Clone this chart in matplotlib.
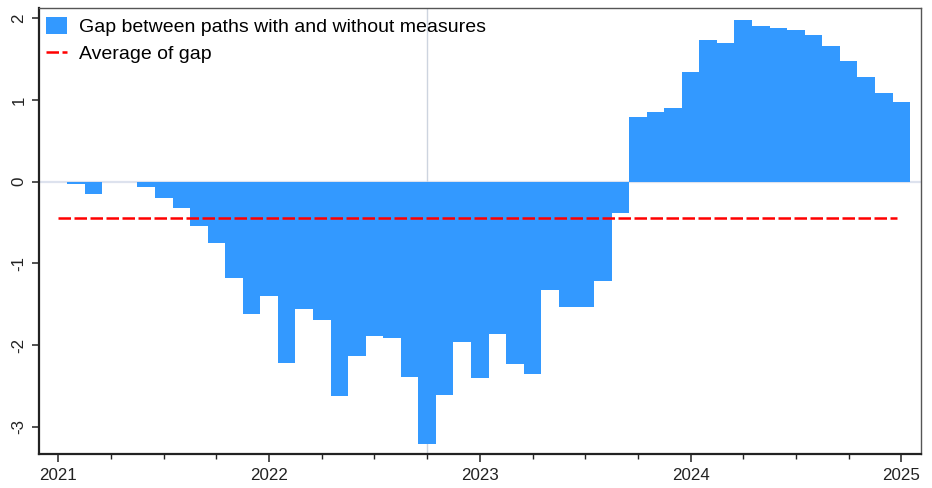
import matplotlib
matplotlib.use("Agg")
import matplotlib.pyplot as plt
import numpy as np
import pandas as pd
from matplotlib.ticker import MultipleLocator

plt.rcParams['font.family'] = ['Liberation Sans', 'DejaVu Sans']

# ---- data ----
months = pd.date_range("2021-01-01", periods=49, freq="MS")
gap = [0.00, -0.03, -0.15, -0.01, -0.01, -0.07, -0.20, -0.32, -0.54, -0.75,
       -1.18, -1.62, -1.40, -2.22, -1.56, -1.70, -2.62, -2.14, -1.89, -1.92,
       -2.39, -3.21, -2.61, -1.96, -2.41, -1.87, -2.23, -2.35, -1.33, -1.54,
       -1.53, -1.22, -0.38, 0.79, 0.85, 0.90, 1.34, 1.74, 1.70, 1.98,
       1.91, 1.88, 1.86, 1.80, 1.66, 1.48, 1.28, 1.09, 0.98]
avg_gap = -0.44
marker_date = "2022-10-01"
year_ticks = [2021, 2022, 2023, 2024, 2025]
series_label = "Gap between paths with and without measures"
avg_label = "Average of gap"

def to_dec(d):
    d = pd.Timestamp(d)
    return d.year + (d.month - 1) / 12.0

x = np.array([to_dec(d) for d in months])

fig = plt.figure(figsize=(9.32, 4.88), dpi=100)
ax = fig.add_axes([0.0418, 0.0697, 0.9461, 0.9149])

# background reference lines
ax.axhline(0, color="#dde2ee", lw=1.6, zorder=1)
ax.axvline(to_dec(marker_date), color="#cdd4df", lw=1.0, zorder=1)

bars = ax.bar(x, gap, width=1 / 12.0, color="#3399ff", edgecolor="none",
              align="center", zorder=2, label=series_label)
avg_line = ax.hlines(avg_gap, x[0], x[-1] - 0.02, colors="#ff0000",
                     linestyles=(0, (5.0, 1.4)), lw=1.8, zorder=3,
                     label=avg_label)

ax.set_xlim(2020.908, 2025.092)
ax.set_ylim(-3.335, 2.133)

ax.set_xticks(year_ticks)
ax.set_xticklabels([str(y) for y in year_ticks])
ax.xaxis.set_minor_locator(MultipleLocator(0.25))
ax.set_yticks([-3, -2, -1, 0, 1, 2])
ax.set_yticklabels(["-3", "-2", "-1", "0", "1", "2"], rotation=90, va="center")

ax.tick_params(axis="x", which="major", length=6, width=1.1, direction="out",
               labelsize=12.2, pad=4, colors="#222222")
ax.tick_params(axis="x", which="minor", length=3.5, width=1.0, direction="out",
               color="#222222")
ax.tick_params(axis="y", which="major", length=5, width=1.1, direction="out",
               labelsize=12.2, pad=4, colors="#222222")

for s in ["left", "bottom"]:
    ax.spines[s].set_linewidth(1.6)
    ax.spines[s].set_color("#222222")
for s in ["top", "right"]:
    ax.spines[s].set_linewidth(1.0)
    ax.spines[s].set_color("#555555")

leg = ax.legend([bars, avg_line], [series_label, avg_label],
                loc="upper left", bbox_to_anchor=(0.0, 0.993),
                frameon=False, fontsize=14,
                handlelength=1.08, handleheight=0.94, handletextpad=0.63,
                labelspacing=0.4, borderaxespad=0.0, borderpad=0.35)

fig.savefig("out.png", dpi=100)
